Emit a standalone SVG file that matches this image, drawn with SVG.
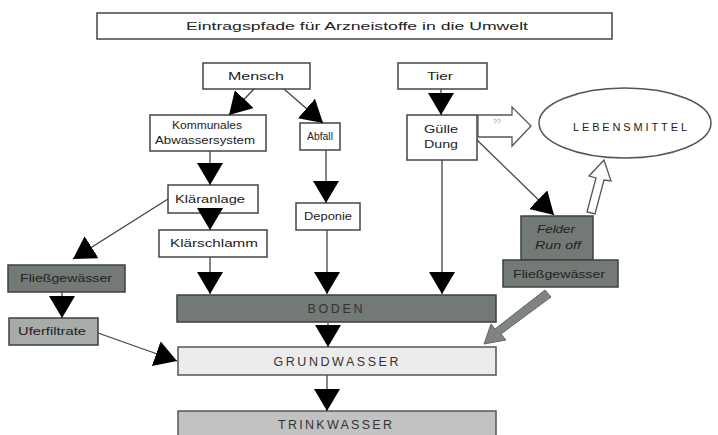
<svg xmlns="http://www.w3.org/2000/svg" width="718" height="435" viewBox="0 0 718 435">
<defs>
<marker id="ah" markerUnits="userSpaceOnUse" markerWidth="24" markerHeight="26" refX="22" refY="13" orient="auto">
<path d="M0,0 L22,13 L0,26 Z" fill="#000"/>
</marker>
<style>
.box{fill:#fff;stroke:#444;stroke-width:1.5}
.dark{fill:#737a75;stroke:#3c403d;stroke-width:1.5}
.mid{fill:#a7aca8;stroke:#3c403d;stroke-width:1.5}
.light{fill:#ececec;stroke:#555;stroke-width:1.5}
.tw{fill:#c2c2c2;stroke:#555;stroke-width:1.5}
.t{font-family:"Liberation Sans",Arial,sans-serif;font-size:11px;fill:#222;text-anchor:middle}
.big{font-family:"Liberation Sans",Arial,sans-serif;font-size:12.5px;fill:#333;text-anchor:middle}
.c{stroke:#444;stroke-width:1.3;fill:none;marker-end:url(#ah)}
</style>
</defs>
<rect width="718" height="435" fill="#fff"/>
<g id="title"><rect class="box" x="97" y="13" width="515" height="26"/><text class="t" x="357" y="30" font-size="13" textLength="342" lengthAdjust="spacingAndGlyphs">Eintragspfade für Arzneistoffe in die Umwelt</text></g>
<g id="mensch"><rect class="box" x="203" y="63" width="107" height="26"/><text class="t" x="256" y="80" textLength="56" lengthAdjust="spacingAndGlyphs">Mensch</text></g>
<g id="tier"><rect class="box" x="398" y="63" width="89" height="26"/><text class="t" x="440" y="80" textLength="26" lengthAdjust="spacingAndGlyphs">Tier</text></g>
<g id="kommunal"><rect class="box" x="150" y="115" width="116" height="36"/><text class="t" x="207" y="129" font-size="10" textLength="70" lengthAdjust="spacingAndGlyphs">Kommunales</text><text class="t" x="205" y="144" font-size="10" textLength="100" lengthAdjust="spacingAndGlyphs">Abwassersystem</text></g>
<g id="abfall"><rect class="box" x="300" y="123" width="40" height="27"/><text class="t" x="320" y="140" font-size="10" textLength="26" lengthAdjust="spacingAndGlyphs">Abfall</text></g>
<g id="klaeranlage"><rect class="box" x="168" y="185" width="90" height="28"/><text class="t" x="210" y="203" textLength="70" lengthAdjust="spacingAndGlyphs">Kläranlage</text></g>
<g id="klaerschlamm"><rect class="box" x="159" y="230" width="108" height="27"/><text class="t" x="214" y="247" textLength="88" lengthAdjust="spacingAndGlyphs">Klärschlamm</text></g>
<g id="deponie"><rect class="box" x="296" y="203" width="64" height="27"/><text class="t" x="328" y="220" textLength="48" lengthAdjust="spacingAndGlyphs">Deponie</text></g>
<g id="guelle"><rect class="box" x="407" y="115" width="70" height="45"/><text class="t" x="441" y="133" textLength="34" lengthAdjust="spacingAndGlyphs">Gülle</text><text class="t" x="441" y="148" textLength="34" lengthAdjust="spacingAndGlyphs">Dung</text></g>
<g id="lebensmittel"><ellipse cx="625" cy="123" rx="86" ry="35" fill="#fff" stroke="#555" stroke-width="1.5"/><text class="t" x="630" y="131" font-size="12" textLength="114" lengthAdjust="spacing">LEBENSMITTEL</text></g>
<g id="fliess-links"><rect class="dark" x="8" y="265" width="117" height="27"/><text class="t" x="66" y="282" textLength="92" lengthAdjust="spacingAndGlyphs">Fließgewässer</text></g>
<g id="uferfiltrate"><rect class="mid" x="9" y="318" width="89" height="27"/><text class="t" x="52" y="335" textLength="68" lengthAdjust="spacingAndGlyphs">Uferfiltrate</text></g>
<g id="felder"><rect class="dark" x="521" y="216" width="72" height="44"/><text class="t" x="556" y="233" font-style="italic" textLength="38" lengthAdjust="spacingAndGlyphs">Felder</text><text class="t" x="558" y="249" font-style="italic" textLength="46" lengthAdjust="spacingAndGlyphs">Run off</text></g>
<g id="fliess-rechts"><rect class="dark" x="503" y="260" width="115" height="27"/><text class="t" x="559" y="278" textLength="92" lengthAdjust="spacingAndGlyphs">Fließgewässer</text></g>
<g id="boden"><rect class="dark" x="177" y="295" width="319" height="27"/><text class="big" x="335" y="313" fill="#222" textLength="55" lengthAdjust="spacing">BODEN</text></g>
<g id="grundwasser"><rect class="light" x="178" y="347" width="318" height="28"/><text class="big" x="336" y="366" textLength="125" lengthAdjust="spacing">GRUNDWASSER</text></g>
<g id="trinkwasser"><rect class="tw" x="178" y="411" width="318" height="28"/><text class="big" x="335" y="429" textLength="114" lengthAdjust="spacing">TRINKWASSER</text></g>
<g id="connectors">
<line class="c" x1="254" y1="89" x2="229" y2="115"/>
<line class="c" x1="284" y1="89" x2="323" y2="123"/>
<line class="c" x1="441" y1="89" x2="441" y2="115"/>
<line class="c" x1="210" y1="151" x2="210" y2="185"/>
<line class="c" x1="210" y1="213" x2="210" y2="230"/>
<line class="c" x1="210" y1="257" x2="210" y2="294"/>
<line class="c" x1="168" y1="199" x2="73" y2="259"/>
<line class="c" x1="62" y1="292" x2="62" y2="318"/>
<line class="c" x1="98" y1="333" x2="177" y2="361"/>
<line class="c" x1="326" y1="150" x2="326" y2="203"/>
<line class="c" x1="327" y1="230" x2="327" y2="294"/>
<line class="c" x1="442" y1="160" x2="442" y2="294"/>
<line class="c" x1="477" y1="140" x2="554" y2="215"/>
<line class="c" x1="328" y1="322" x2="328" y2="347"/>
<line class="c" x1="327" y1="375" x2="327" y2="411"/>
<path d="M478,115 L512,115 L512,107 L531,126 L512,146 L512,137 L478,137 Z" fill="#fff" stroke="#555" stroke-width="1.3"/>
<text x="493" y="124" font-family="Liberation Sans,Arial,sans-serif" font-size="7" fill="#888">??</text>
<path d="M587,212 L596,178 L589,176 L604,160 L611,181 L604,180 L595,214 Z" fill="#fff" stroke="#555" stroke-width="1.3"/>
<path d="M551,297 L501,334 L506,340 L484,344 L491,324 L495,329 L545,290 Z" fill="#7e857f" stroke="#666" stroke-width="1"/>
</g>
</svg>
